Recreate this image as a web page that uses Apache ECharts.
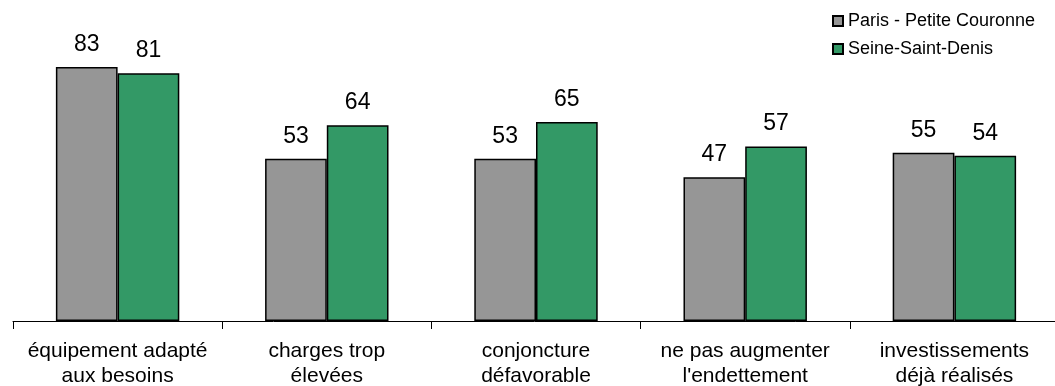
<!DOCTYPE html>
<html>
<head>
<meta charset="utf-8">
<script src="https://cdn.jsdelivr.net/npm/echarts@6/dist/echarts.min.js"></script>
<style>
  html, body { margin: 0; padding: 0; background: #fff; }
  #chart { width: 1055px; height: 386px; }
</style>
</head>
<body>
<div id="chart"></div>
<script>
// données
const categories = [
  "équipement adapté\naux besoins",
  "charges trop\nélevées",
  "conjoncture\ndéfavorable",
  "ne pas augmenter\nl'endettement",
  "investissements\ndéjà réalisés"
];
const parisPC = [83, 53, 53, 47, 55];
const seineSD = [81, 64, 65, 57, 54];

const chart = echarts.init(document.getElementById("chart"));

const labelStyle = {
  show: true,
  position: "top",
  distance: 11,
  color: "#000",
  fontSize: 23,
  fontFamily: "Liberation Sans, Arial, sans-serif"
};

const option = {
  animation: false,
  textStyle: { fontFamily: "Liberation Sans, Arial, sans-serif" },
  legend: {
    orient: "vertical",
    left: 827,
    top: 7,
    itemWidth: 10,
    itemHeight: 10,
    itemGap: 10,
    icon: "rect",
    textStyle: { fontSize: 18, color: "#000", lineHeight: 18 },
    data: ["Paris - Petite Couronne", "Seine-Saint-Denis"]
  },
  grid: {
    left: 13,
    width: 1046,
    top: 15,
    bottom: 65,
    containLabel: false,
    outerBoundsMode: "none"
  },
  xAxis: {
    type: "category",
    data: categories,
    axisLine: { lineStyle: { color: "#000", width: 1 } },
    axisTick: { show: true, length: 8, lineStyle: { color: "#000" } },
    axisLabel: {
      color: "#000",
      fontSize: 21,
      lineHeight: 25,
      margin: 18,
      interval: 0
    }
  },
  yAxis: {
    type: "value",
    min: 0,
    max: 100,
    show: false
  },
  series: [
    {
      name: "Paris - Petite Couronne",
      type: "bar",
      data: parisPC,
      barGap: "0%",
      barCategoryGap: "41%",
      itemStyle: { color: "#969696", borderColor: "#000", borderWidth: 1.5 },
      label: labelStyle
    },
    {
      name: "Seine-Saint-Denis",
      type: "bar",
      data: seineSD,
      itemStyle: { color: "#339966", borderColor: "#000", borderWidth: 1.5 },
      label: labelStyle
    }
  ]
};

chart.setOption(option);
</script>
</body>
</html>
